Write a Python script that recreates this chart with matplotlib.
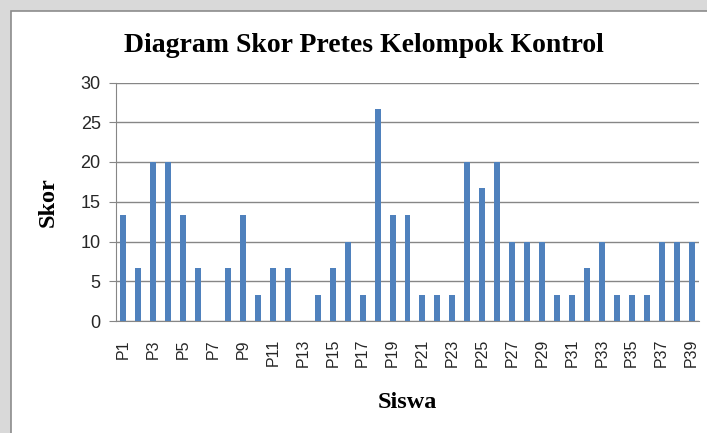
import matplotlib.pyplot as plt
from matplotlib.patches import Rectangle

siswa = ['P%d' % i for i in range(1, 40)]
skor = [13.33, 6.67, 20, 20, 13.33, 6.67, 0, 6.67, 13.33, 3.33,
        6.67, 6.67, 0, 3.33, 6.67, 10, 3.33, 26.67, 13.33, 13.33,
        3.33, 3.33, 3.33, 20, 16.67, 20, 10, 10, 10, 3.33,
        3.33, 6.67, 10, 3.33, 3.33, 3.33, 10, 10, 10]
y_ticks = [0, 5, 10, 15, 20, 25, 30]

fig = plt.figure(figsize=(7.07, 4.33), dpi=100)
fig.patch.set_facecolor('#d9d9d9')
# white chart box with grey border
fig.patches.append(Rectangle((11 / 707, -0.05), 1.1, 1 - 11 / 433 + 0.05,
                             transform=fig.transFigure, facecolor='white',
                             edgecolor='#8c8c8c', linewidth=1.2, zorder=-5))

ax = fig.add_axes([116 / 707, 1 - 321 / 433, 583 / 707, (321 - 82.5) / 433])
ax.set_facecolor('none')
ax.bar(range(len(siswa)), skor, width=0.4, color='#4f81bd', zorder=3)

ax.set_xlim(-0.5, len(siswa) - 0.5)
ax.set_ylim(0, 30)
ax.set_yticks(y_ticks)
ax.yaxis.grid(True, color='#868686', linewidth=1)
ax.set_axisbelow(True)
ax.set_xticks(range(0, len(siswa), 2))
ax.set_xticklabels(siswa[::2], rotation=90, fontsize=11.5, family='Liberation Sans')
for t in ax.get_yticklabels():
    t.set_fontsize(13)
    t.set_family('Liberation Sans')
ax.tick_params(axis='x', length=0, pad=13, colors='#262626')
ax.tick_params(axis='y', length=5, color='#868686', labelcolor='#262626', pad=6)

for s in ['top', 'right']:
    ax.spines[s].set_visible(False)
ax.spines['left'].set_color('#868686')
ax.spines['bottom'].set_color('#868686')

fig.text(364 / 707, 1 - 45 / 433, 'Diagram Skor Pretes Kelompok Kontrol',
         ha='center', va='center', fontsize=20, fontweight='bold',
         family='Liberation Serif')
fig.text(48 / 707, 1 - 202 / 433, 'Skor', rotation=90, ha='center', va='center',
         fontsize=17.5, fontweight='bold', family='Liberation Serif')
fig.text(407 / 707, 1 - 402 / 433, 'Siswa', ha='center', va='center',
         fontsize=17.5, fontweight='bold', family='Liberation Serif')

fig.savefig('out.png', dpi=100, facecolor=fig.get_facecolor())
